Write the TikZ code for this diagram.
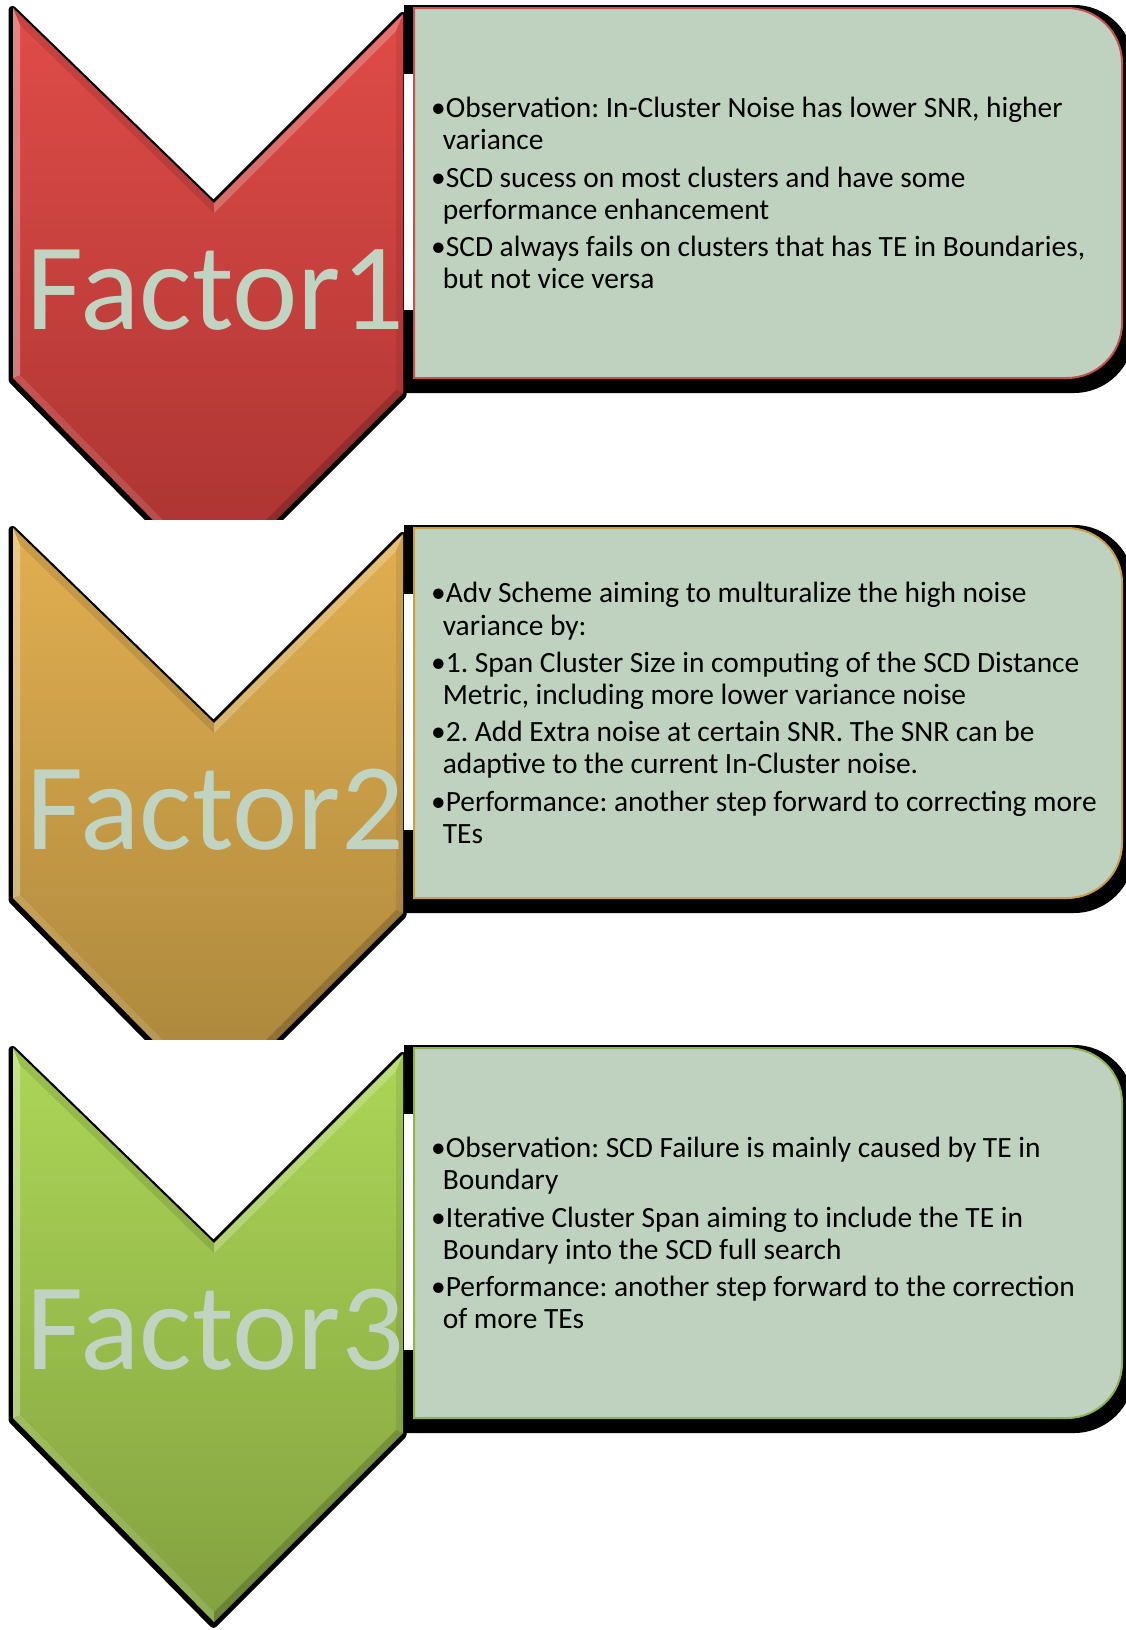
\documentclass[tikz,border=0pt]{standalone}
\usepackage{fontspec}
\setmainfont{Carlito}
\frenchspacing

\definecolor{panelfill}{HTML}{BFD2BF}
\definecolor{labelfg}{HTML}{C1D4C1}
\definecolor{redtop}{HTML}{E04C48}
\definecolor{redbot}{HTML}{A83331}
\definecolor{redline}{HTML}{C4524F}
\definecolor{goldtop}{HTML}{E2AF51}
\definecolor{goldbot}{HTML}{A8853B}
\definecolor{goldline}{HTML}{C9A04A}
\definecolor{greentop}{HTML}{ACD657}
\definecolor{greenbot}{HTML}{83A140}
\definecolor{greenline}{HTML}{8FB34E}

% chevron outline (one stage, top at y = 0)
\newcommand\chevpath{(13,8) -- (214,203) -- (403,14) -- (403,393) -- (214,582) -- (13,378) -- cycle}

% one stage: chevron with bevel and drop shadow, and the text panel
% #1 vertical offset, #2 top colour, #3 bottom colour, #4 panel border, #5 lowest visible y of the chevron
\newcommand\drawstage[5]{%
  \begin{scope}[shift={(0,#1)}]
    % panel shadow
    \fill[black] (404,5) -- (1074,5) .. controls (1107.1,5) and (1134,31.9) .. (1134,65)
      -- (1134,333) .. controls (1134,366.1) and (1107.1,393) .. (1074,393) -- (404,393) -- cycle;
    \begin{scope}
      \clip (0,-10) rectangle (420,#5);
      % chevron shadow
      \draw[black, line width=8pt, line join=round, shift={(-0.5,2)}] \chevpath;
      \fill[white] (403.5,74) rectangle (414,310);
      % chevron body
      \shade[top color=#2, bottom color=#3] \chevpath;
      % bevel
      \fill[white, opacity=0.32] (13,8) -- (20,25) -- (20,375) -- (13,378) -- cycle;
      \fill[black, opacity=0.10] (13,8) -- (214,203) -- (214,213) -- (20,25) -- cycle;
      \fill[white, opacity=0.22] (214,203) -- (403,14) -- (396,31) -- (214,213) -- cycle;
      \fill[black, opacity=0.08] (403,14) -- (403,393) -- (396,390) -- (396,31) -- cycle;
      \fill[black, opacity=0.18] (403,393) -- (214,582) -- (214,572) -- (396,390) -- cycle;
      \fill[white, opacity=0.12] (214,582) -- (13,378) -- (20,375) -- (214,572) -- cycle;
    \end{scope}
    % text panel
    \draw[#4, line width=2pt, fill=panelfill] (414,8) -- (1067,8) .. controls (1097.4,8) and (1122,32.6) .. (1122,63)
      -- (1122,323) .. controls (1122,353.4) and (1097.4,378) .. (1067,378) -- (414,378) -- cycle;
  \end{scope}}

\newcommand\hang{\hphantom{\textbullet}\hspace{-3pt}}

\tikzset{
  factorlabel/.style={anchor=base west, inner sep=0pt, text=labelfg,
    font=\fontsize{124}{124}\selectfont},
  paneltext/.style={anchor=west, align=left, inner sep=0pt, text=black,
    font=\fontsize{29.4}{32.2}\selectfont}
}

\begin{document}
\begin{tikzpicture}[x=1pt, y=-1pt]
  \useasboundingbox (0,0) rectangle (1126,1630);
  \clip (0,0) rectangle (1126,1630);

  \drawstage{0}{redtop}{redbot}{redline}{519}
  \drawstage{520}{goldtop}{goldbot}{goldline}{519}
  \drawstage{1040}{greentop}{greenbot}{greenline}{700}

  \node[factorlabel] (f1) at (26.5,329) {Factor1};
  \node[factorlabel] (f2) at (26.5,849) {Factor2};
  \node[factorlabel] (f3) at (26.5,1369) {Factor3};

  \node[paneltext] (t1) at (431,193) {\textbullet Observation: In-Cluster Noise has lower SNR, higher\\
    \hang variance\\[5pt]
    \textbullet SCD sucess on most clusters and have some\\
    \hang performance enhancement\\[5pt]
    \textbullet SCD always fails on clusters that has TE in Boundaries,\\
    \hang but not vice versa};

  \node[paneltext] (t2) at (431,713) {\textbullet Adv Scheme aiming to multuralize the high noise\\
    \hang variance by:\\[5pt]
    \textbullet 1. Span Cluster Size in computing of the SCD Distance\\
    \hang Metric, including more lower variance noise\\[5pt]
    \textbullet 2. Add Extra noise at certain SNR. The SNR can be\\
    \hang adaptive to the current In-Cluster noise.\\[5pt]
    \textbullet Performance: another step forward to correcting more\\
    \hang TEs};

  \node[paneltext] (t3) at (431,1233) {\textbullet Observation: SCD Failure is mainly caused by TE in\\
    \hang Boundary\\[5pt]
    \textbullet Iterative Cluster Span aiming to include the TE in\\
    \hang Boundary into the SCD full search\\[5pt]
    \textbullet Performance: another step forward to the correction\\
    \hang of more TEs};
\end{tikzpicture}
\end{document}
